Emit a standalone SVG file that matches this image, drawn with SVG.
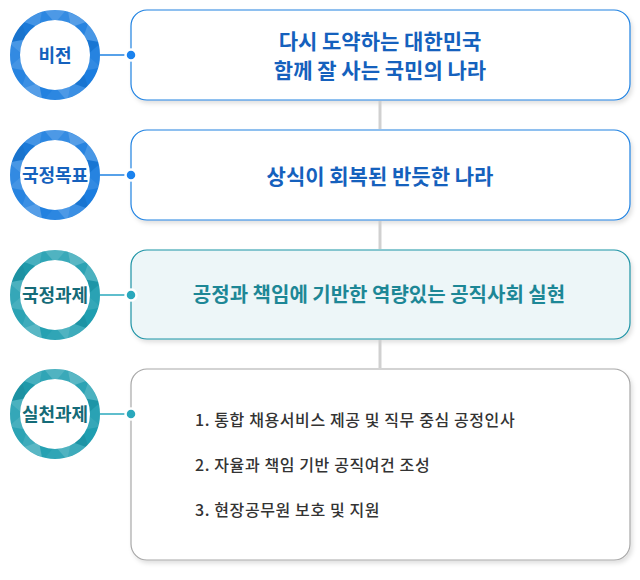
<svg xmlns="http://www.w3.org/2000/svg" xmlns:xlink="http://www.w3.org/1999/xlink" width="640" height="580" viewBox="0 0 640 580">
<style>
  text { font-family: "Noto Sans CJK KR", "Noto Sans", sans-serif; }
  .ctl { font-size: 18px; font-weight: 700; text-anchor: middle; }
  .cb { fill: #1561bd; }
  .ct { fill: #156b78; }
  .bt { font-size: 21px; font-weight: 700; text-anchor: middle; }
  .li { font-size: 16px; font-weight: 500; fill: #333333; letter-spacing: 0.6px; }
  .boxb { fill: #ffffff; stroke: #1f82e2; stroke-width: 1.2; }
  .boxt { fill: #edf6f8; stroke: #1d93a5; stroke-width: 1.2; }
  .boxg { fill: #ffffff; stroke: #a8a8a8; stroke-width: 1.2; }
  .vline { stroke: #d0d0d0; stroke-width: 3; }
  .hb { stroke: #1f82e2; stroke-width: 1.5; }
  .ht { stroke: #2aa8bc; stroke-width: 1.5; }
  .db { fill: #1a82ee; stroke: #ffffff; stroke-width: 2.5; }
  .dt { fill: #2aa8bc; stroke: #ffffff; stroke-width: 2.5; }
</style>
<defs>
  <filter id="sh" x="-5%" y="-10%" width="110%" height="130%">
    <feDropShadow dx="2" dy="3" stdDeviation="2" flood-color="#000000" flood-opacity="0.12"/>
  </filter>
  <clipPath id="ann">
    <path clip-rule="evenodd" d="M45,0 A45,45 0 1,1 -45,0 A45,45 0 1,1 45,0 Z M35,0 A35,35 0 1,0 -35,0 A35,35 0 1,0 35,0 Z"/>
  </clipPath>
  <g id="facets" clip-path="url(#ann)">
    <polygon points="32,0 46.36,12.42 27.71,16" fill="#fff" fill-opacity="0.1"/>
    <polygon points="46.36,12.42 27.71,16 33.94,33.94" fill="#fff" fill-opacity="0"/>
    <polygon points="27.71,16 33.94,33.94 16,27.71" fill="#000" fill-opacity="0.06"/>
    <polygon points="33.94,33.94 16,27.71 12.42,46.36" fill="#fff" fill-opacity="0.14"/>
    <polygon points="16,27.71 12.42,46.36 0,32" fill="#fff" fill-opacity="0.22"/>
    <polygon points="12.42,46.36 0,32 -12.42,46.36" fill="#fff" fill-opacity="0.08"/>
    <polygon points="0,32 -12.42,46.36 -16,27.71" fill="#fff" fill-opacity="0.03"/>
    <polygon points="-12.42,46.36 -16,27.71 -33.94,33.94" fill="#fff" fill-opacity="0.26"/>
    <polygon points="-16,27.71 -33.94,33.94 -27.71,16" fill="#fff" fill-opacity="0.14"/>
    <polygon points="-33.94,33.94 -27.71,16 -46.36,12.42" fill="#fff" fill-opacity="0.06"/>
    <polygon points="-27.71,16 -46.36,12.42 -32,0" fill="#fff" fill-opacity="0.18"/>
    <polygon points="-46.36,12.42 -32,0 -46.36,-12.42" fill="#fff" fill-opacity="0.1"/>
    <polygon points="-32,0 -46.36,-12.42 -27.71,-16" fill="#fff" fill-opacity="0.2"/>
    <polygon points="-46.36,-12.42 -27.71,-16 -33.94,-33.94" fill="#000" fill-opacity="0.08"/>
    <polygon points="-27.71,-16 -33.94,-33.94 -16,-27.71" fill="#000" fill-opacity="0.03"/>
    <polygon points="-33.94,-33.94 -16,-27.71 -12.42,-46.36" fill="#fff" fill-opacity="0.18"/>
    <polygon points="-16,-27.71 -12.42,-46.36 0,-32" fill="#fff" fill-opacity="0.08"/>
    <polygon points="-12.42,-46.36 0,-32 12.42,-46.36" fill="#fff" fill-opacity="0.22"/>
    <polygon points="0,-32 12.42,-46.36 16,-27.71" fill="#fff" fill-opacity="0.12"/>
    <polygon points="12.42,-46.36 16,-27.71 33.94,-33.94" fill="#fff" fill-opacity="0.26"/>
    <polygon points="16,-27.71 33.94,-33.94 27.71,-16" fill="#fff" fill-opacity="0.06"/>
    <polygon points="33.94,-33.94 27.71,-16 46.36,-12.42" fill="#fff" fill-opacity="0.2"/>
    <polygon points="27.71,-16 46.36,-12.42 32,0" fill="#000" fill-opacity="0.05"/>
    <polygon points="46.36,-12.42 32,0 46.36,12.42" fill="#fff" fill-opacity="0.05"/>
  </g>
</defs>
<rect width="640" height="580" fill="#ffffff"/>

<g id="node-vision">
  <g transform="translate(55,55)">
    <circle r="40" fill="none" stroke="#1b7ddf" stroke-width="10"/>
    <use xlink:href="#facets"/>
  </g>
  <text class="ctl cb" x="55" y="61.5">비전</text>
  <rect class="boxb" x="131" y="10" width="499" height="90" rx="16" filter="url(#sh)"/>
  <text class="bt cb" x="380" y="48.5">다시 도약하는 대한민국</text>
  <text class="bt cb" x="380" y="77.5">함께 잘 사는 국민의 나라</text>
</g>

<g id="node-goal">
  <g transform="translate(55,175)">
    <circle r="40" fill="none" stroke="#1b7ddf" stroke-width="10"/>
    <use xlink:href="#facets"/>
  </g>
  <text class="ctl cb" x="55" y="181.5">국정목표</text>
  <rect class="boxb" x="131" y="130" width="499" height="90" rx="16" filter="url(#sh)"/>
  <text class="bt cb" x="380" y="183.5">상식이 회복된 반듯한 나라</text>
</g>

<g id="node-task">
  <g transform="translate(55,295)">
    <circle r="40" fill="none" stroke="#1f9eb0" stroke-width="10"/>
    <use xlink:href="#facets"/>
  </g>
  <text class="ctl ct" x="55" y="301.5">국정과제</text>
  <rect class="boxt" x="131" y="250" width="499" height="89" rx="16" filter="url(#sh)"/>
  <text class="bt" x="379" y="301.5" fill="#1d8796" style="font-size:20px">공정과 책임에 기반한 역량있는 공직사회 실현</text>
</g>

<g id="node-practice">
  <g transform="translate(55,414)">
    <circle r="40" fill="none" stroke="#1f9eb0" stroke-width="10"/>
    <use xlink:href="#facets"/>
  </g>
  <text class="ctl ct" x="55" y="420.5">실천과제</text>
  <rect class="boxg" x="131" y="369" width="499" height="191" rx="16" filter="url(#sh)"/>
  <text class="li" x="195" y="426">1. 통합 채용서비스 제공 및 직무 중심 공정인사</text>
  <text class="li" x="195" y="471">2. 자율과 책임 기반 공직여건 조성</text>
  <text class="li" x="195" y="516">3. 현장공무원 보호 및 지원</text>
</g>

<g id="connectors">
  <line class="vline" x1="380" y1="101" x2="380" y2="129"/>
  <line class="vline" x1="380" y1="221" x2="380" y2="249"/>
  <line class="vline" x1="380" y1="340" x2="380" y2="368"/>
  <line class="hb" x1="100" y1="55" x2="131" y2="55"/>
  <line class="hb" x1="100" y1="175" x2="131" y2="175"/>
  <line class="ht" x1="100" y1="295" x2="131" y2="295"/>
  <line class="ht" x1="100" y1="414" x2="131" y2="414"/>
  <circle class="db" cx="131" cy="55" r="5.5"/>
  <circle class="db" cx="131" cy="175" r="5.5"/>
  <circle class="dt" cx="131" cy="295" r="5.5"/>
  <circle class="dt" cx="131" cy="414" r="5.5"/>
</g>
</svg>
